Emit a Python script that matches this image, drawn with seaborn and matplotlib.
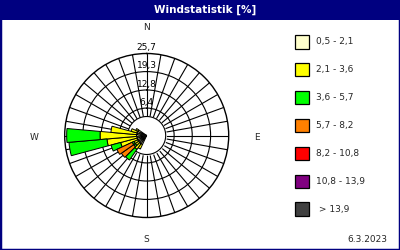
import numpy as np
import matplotlib
matplotlib.use("Agg")
import matplotlib.pyplot as plt
import seaborn as sns
from matplotlib.patches import Rectangle

sns.set_theme(style="white")
plt.rcParams['font.family'] = ['DejaVu Sans']

# ---------------- data ----------------
title = "Windstatistik [%]"
date_text = "6.3.2023"
directions = [210, 220, 230, 240, 250, 260, 270, 280, 290, 300]
speed_classes = ["0,5 - 2,1", "2,1 - 3,6", "3,6 - 5,7", "5,7 - 8,2",
                 "8,2 - 10,8", "10,8 - 13,9", " > 13,9"]
class_colors = ["#FFFFCC", "#FFFF00", "#00FF00", "#FF8000",
                "#FF0000", "#800080", "#404040"]
pct_05_21 = [0.2, 0.2, 0.2, 0.2, 0.2, 0.2, 0.3, 0.2, 0.2, 0.2]
pct_21_36 = [1.8, 2.5, 1.45, 1.45, 6.05, 10.6, 12.9, 9.2, 2.2, 0.8]
pct_36_57 = [0.0, 4.6, 0.7, 0.7, 3.5, 13.5, 11.8, 0.0, 0.0, 0.0]
pct_57_82 = [0.0, 0.0, 5.3, 6.0, 0.0, 0.0, 0.0, 0.0, 0.0, 0.0]
pct_82_108 = [0.0] * 10
pct_108_139 = [0.0] * 10
pct_139 = [0.0] * 10
ring_values = [6.4, 12.8, 19.3, 25.7]
ring_labels = ["6,4", "12,8", "19,3", "25,7"]
compass_labels = ["N", "E", "S", "W"]

series = [pct_05_21, pct_21_36, pct_36_57, pct_57_82, pct_82_108, pct_108_139, pct_139]

# ---------------- figure ----------------
navy = "#000080"
fig = plt.figure(figsize=(4, 2.5), dpi=100)
fig.patch.set_facecolor("white")

ax = fig.add_axes([0.16175, 0.13, 0.41, 0.656], projection="polar")
ax.set_facecolor("white")
ax.set_theta_zero_location("N")
ax.set_theta_direction(-1)
r_min, r_max = -3.3, ring_values[-1]
hole_r = 3.42
ax.set_ylim(r_min, r_max)
ax.set_yticks(ring_values[:-1])
ax.set_yticklabels([])
ax.set_xticks(np.deg2rad(np.arange(0, 360, 10)))
ax.set_xticklabels([])
ax.set_axisbelow(True)
ax.grid(True, color="black", lw=0.8)
ax.spines["polar"].set_color("black")
ax.spines["polar"].set_linewidth(1.0)
ax.tick_params(pad=0, length=0)

# calm hole
th = np.linspace(0, 2 * np.pi, 300)
ax.fill_between(th, r_min, hole_r, color="white", zorder=1.2)
ax.plot(th, np.full_like(th, hole_r), color="black", lw=0.8, zorder=1.3)

# stacked bars
theta = np.deg2rad(directions)
width = np.deg2rad(10)
cum = np.zeros(len(directions))
for k, vals in enumerate(series):
    vals = np.asarray(vals, dtype=float)
    top = cum + vals
    bottom = np.where(cum == 0, r_min, cum) if k == 0 else cum
    mask = vals > 0
    if mask.any():
        ax.bar(theta[mask], (top - bottom)[mask], width=width, bottom=bottom[mask],
               color=class_colors[k], edgecolor="black", linewidth=0.7, zorder=2)
    cum = top

# ring labels
for v, lab in zip(ring_values, ring_labels):
    ax.annotate(lab, xy=(0, v), xytext=(0, 1), textcoords="offset points",
                ha="center", va="bottom", fontsize=6.5, color="black", zorder=3)

# compass labels
fig.text(147 / 400, 1 - 28 / 250, compass_labels[0], ha="center", va="center", fontsize=6.5)
fig.text(257 / 400, 1 - 137 / 250, compass_labels[1], ha="center", va="center", fontsize=6.5)
fig.text(146 / 400, 1 - 239 / 250, compass_labels[2], ha="center", va="center", fontsize=6.5)
fig.text(34 / 400, 1 - 137 / 250, compass_labels[3], ha="center", va="center", fontsize=6.5)

# legend
for i, (lab, col) in enumerate(zip(speed_classes, class_colors)):
    yc = 41.7 + 27.93 * i
    fig.patches.append(Rectangle((295 / 400, 1 - (yc + 6.8) / 250), 14 / 400, 13.6 / 250,
                                 transform=fig.transFigure, facecolor=col,
                                 edgecolor="black", lw=0.9))
    fig.text(316.5 / 400, 1 - yc / 250, lab, ha="left", va="center", fontsize=6.5)

fig.text(367 / 400, 1 - 239 / 250, date_text, ha="center", va="center", fontsize=6.5)

# header bar and border
fig.patches.append(Rectangle((0, 1 - 20 / 250), 1, 20 / 250, transform=fig.transFigure,
                             facecolor=navy, edgecolor="none", zorder=0))
fig.patches.append(Rectangle((0, 0), 1, 1, transform=fig.transFigure, fill=False,
                             edgecolor=navy, lw=2.5, zorder=5))
fig.text(205 / 400, 1 - 10 / 250, title, ha="center", va="center", color="white",
         fontsize=7.5, fontweight="bold")

fig.savefig("out.png", dpi=100)
